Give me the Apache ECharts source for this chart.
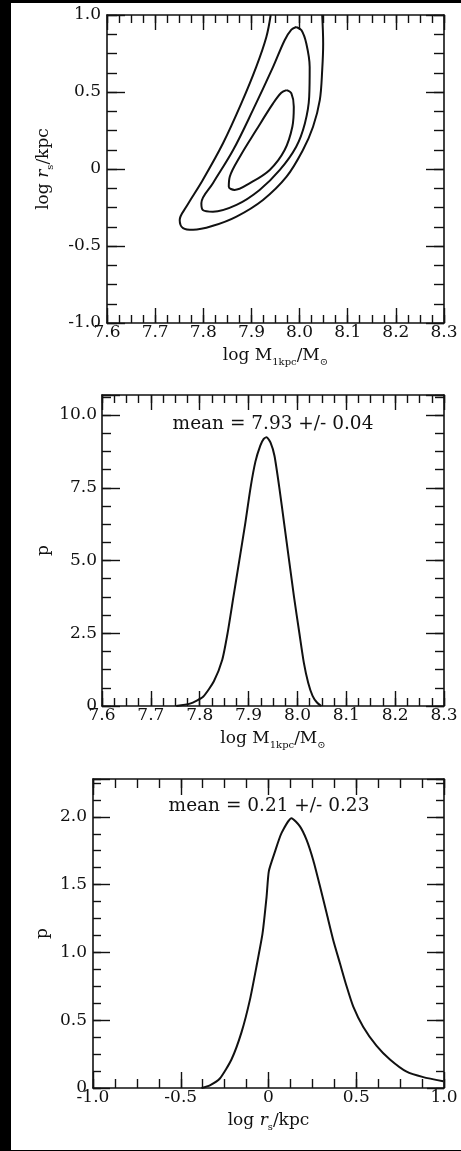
<!DOCTYPE html>
<html><head><meta charset="utf-8">
<script src="https://cdn.jsdelivr.net/npm/echarts@6/dist/echarts.min.js"></script>
<style>html,body{margin:0;padding:0;background:#fff}#c{width:461px;height:1151px}</style>
</head><body><div id="c"></div>
<script>
// ---------- tick labels ----------
const massTicks = [7.6, 7.7, 7.8, 7.9, 8.0, 8.1, 8.2, 8.3];
const massTickLabels = ['7.6', '7.7', '7.8', '7.9', '8.0', '8.1', '8.2', '8.3'];
const rsTicks = [-1, -0.5, 0, 0.5, 1];
const rsTickLabels = ['-1.0', '-0.5', '0', '0.5', '1.0'];
const pMassTicks = [0, 2.5, 5, 7.5, 10];
const pMassTickLabels = ['0', '2.5', '5.0', '7.5', '10.0'];
const pRsTicks = [0, 0.5, 1, 1.5, 2];
const pRsTickLabels = ['0', '0.5', '1.0', '1.5', '2.0'];

// ---------- panel 1: confidence contours (log M1kpc, log rs) ----------
const contourOuter = [[7.940,1.0],[7.931,0.857],[7.910,0.663],[7.879,0.426],[7.841,0.167],[7.799,-0.071],[7.765,-0.244],[7.751,-0.331],[7.758,-0.384],[7.779,-0.395],[7.820,-0.369],[7.869,-0.309],[7.924,-0.201],[7.973,-0.05],[8.007,0.123],[8.028,0.274],[8.042,0.447],[8.047,0.642],[8.049,0.815],[8.047,1.0]];
const contourMiddle = [[7.993,0.922],[8.004,0.901],[8.014,0.815],[8.021,0.663],[8.020,0.469],[8.011,0.296],[7.993,0.145],[7.959,-0.006],[7.917,-0.136],[7.869,-0.233],[7.820,-0.277],[7.799,-0.266],[7.796,-0.222],[7.820,-0.093],[7.862,0.123],[7.903,0.382],[7.945,0.663],[7.969,0.836],[7.983,0.905],[7.993,0.922]];
const contourInner = [[7.973,0.512],[7.983,0.491],[7.988,0.404],[7.985,0.274],[7.969,0.123],[7.938,-0.006],[7.896,-0.093],[7.865,-0.136],[7.853,-0.115],[7.855,-0.050],[7.876,0.080],[7.910,0.253],[7.945,0.426],[7.962,0.495],[7.973,0.512]];

// ---------- panel 2: p(log M1kpc) ----------
const massX = [7.752,7.780,7.807,7.829,7.846,7.857,7.869,7.881,7.893,7.904,7.914,7.924,7.931,7.937,7.945,7.953,7.963,7.973,7.983,7.993,8.004,8.013,8.022,8.031,8.040,8.049];
const massP = [0,0.08,0.32,0.85,1.58,2.50,3.75,5.00,6.25,7.50,8.40,8.95,9.18,9.24,9.05,8.60,7.50,6.25,5.00,3.75,2.50,1.50,0.80,0.35,0.12,0];
const massMeanText = 'mean = 7.93 +/- 0.04';

// ---------- panel 3: p(log rs) ----------
const rsX = [-0.382,-0.334,-0.277,-0.211,-0.154,-0.106,-0.068,-0.034,-0.011,0.002,0.036,0.074,0.131,0.179,0.217,0.255,0.293,0.331,0.369,0.407,0.445,0.483,0.540,0.616,0.692,0.787,0.882,0.996];
const rsP = [0.00,0.02,0.07,0.21,0.41,0.65,0.90,1.14,1.41,1.60,1.74,1.88,1.99,1.93,1.83,1.68,1.49,1.29,1.09,0.92,0.75,0.60,0.45,0.31,0.21,0.12,0.08,0.05];
const rsMeanText = 'mean = 0.21 +/- 0.23';

// ---------- styling / building ----------
const FONT = 'DejaVu Serif';
const INK = '#111111';
const zip = (a, b) => a.map((v, i) => [v, b[i]]);
function labelFmt(ticks, labels) {
  return v => { const i = ticks.findIndex(t => Math.abs(t - v) < 1e-7); return i < 0 ? '' : labels[i]; };
}
const nameRich = {
  a: { fontFamily: FONT, fontSize: 17, color: INK, lineHeight: 22 },
  i: { fontFamily: FONT, fontSize: 17, color: INK, lineHeight: 22, fontStyle: 'italic' },
  s: { fontFamily: FONT, fontSize: 10, color: INK, lineHeight: 10, verticalAlign: 'bottom' }
};
const massName = '{a|log M}{s|1kpc}{a|/M}{s|⊙}';
const rsName = '{a|log }{i|r}{s|s}{a|/kpc}';

const grids = [
  { left: 107, top: 15, width: 337, height: 308 },
  { left: 102, top: 395, width: 342, height: 311 },
  { left: 93, top: 779, width: 351, height: 309 }
];
const xAxes = [], yAxes = [];
function addAxes(dim, gi, c) {
  const list = dim === 'x' ? xAxes : yAxes;
  const pos = dim === 'x' ? ['bottom', 'top'] : ['left', 'right'];
  const mainIndex = list.length;
  pos.forEach((p, k) => {
    list.push({
      type: 'value', gridIndex: gi, position: p, min: c.min, max: c.max, interval: c.step,
      axisLine: { show: true, onZero: false, lineStyle: { color: INK, width: 1.6 } },
      axisTick: { show: true, inside: true, length: c.majorLen, lineStyle: { color: INK, width: 1.4 } },
      splitLine: { show: false },
      axisLabel: k === 0 ? { show: true, margin: c.labelMargin, fontFamily: FONT, fontSize: 17, color: INK,
        formatter: labelFmt(c.ticks, c.labels), showMinLabel: true, showMaxLabel: true, hideOverlap: false } : { show: false },
      name: k === 0 ? c.name : '', nameLocation: 'middle', nameGap: c.nameGap, nameMoveOverlap: false,
      nameTextStyle: { rich: nameRich, fontFamily: FONT, fontSize: 17, color: INK },
      z: 5
    });
    list.push({
      type: 'value', gridIndex: gi, position: p, min: c.min, max: c.max, interval: c.step / 4,
      axisLine: { show: false, onZero: false },
      axisTick: { show: true, inside: true, length: c.minorLen, lineStyle: { color: INK, width: 1.4 } },
      axisLabel: { show: false }, splitLine: { show: false }, z: 5
    });
  });
  return mainIndex;
}

const x0 = addAxes('x', 0, { min: 7.6, max: 8.3, step: 0.1, majorLen: 15, minorLen: 8, ticks: massTicks, labels: massTickLabels, name: massName, nameGap: 22, labelMargin: 1 });
const y0 = addAxes('y', 0, { min: -1, max: 1, step: 0.5, majorLen: 18, minorLen: 10, ticks: rsTicks, labels: rsTickLabels, name: rsName, nameGap: 52, labelMargin: 6 });
const x1 = addAxes('x', 1, { min: 7.6, max: 8.3, step: 0.1, majorLen: 15, minorLen: 8, ticks: massTicks, labels: massTickLabels, name: massName, nameGap: 22, labelMargin: 1 });
const y1 = addAxes('y', 1, { min: 0, max: 10.69, step: 2.5, majorLen: 18, minorLen: 9, ticks: pMassTicks, labels: pMassTickLabels, name: 'p', nameGap: 50, labelMargin: 5 });
const x2 = addAxes('x', 2, { min: -1, max: 1, step: 0.5, majorLen: 16, minorLen: 9, ticks: rsTicks, labels: rsTickLabels, name: rsName, nameGap: 22, labelMargin: 1 });
const y2 = addAxes('y', 2, { min: 0, max: 2.279, step: 0.5, majorLen: 17, minorLen: 8, ticks: pRsTicks, labels: pRsTickLabels, name: 'p', nameGap: 42, labelMargin: 6 });

const lineBase = { type: 'line', showSymbol: false, symbol: 'none', silent: true,
  lineStyle: { color: INK, width: 2 }, z: 3 };

const series = [
  Object.assign({}, lineBase, { name: 'outer', xAxisIndex: x0, yAxisIndex: y0, data: contourOuter, smooth: 0.35 }),
  Object.assign({}, lineBase, { name: 'middle', xAxisIndex: x0, yAxisIndex: y0, data: contourMiddle, smooth: 0.35 }),
  Object.assign({}, lineBase, { name: 'inner', xAxisIndex: x0, yAxisIndex: y0, data: contourInner, smooth: 0.35 }),
  Object.assign({}, lineBase, { name: 'pMass', xAxisIndex: x1, yAxisIndex: y1, data: zip(massX, massP), smooth: 0.2 }),
  Object.assign({}, lineBase, { name: 'pRs', xAxisIndex: x2, yAxisIndex: y2, data: zip(rsX, rsP), smooth: 0.2 })
];

const chart = echarts.init(document.getElementById('c'), null, { renderer: 'canvas' });
chart.setOption({
  animation: false,
  backgroundColor: '#ffffff',
  grid: grids,
  xAxis: xAxes,
  yAxis: yAxes,
  series: series,
  graphic: [
    { type: 'rect', shape: { x: 0, y: 0, width: 11, height: 1151 }, style: { fill: '#000' }, z: 100 },
    { type: 'rect', shape: { x: 0, y: 0, width: 461, height: 3 }, style: { fill: '#000' }, z: 100 },
    { type: 'rect', shape: { x: 0, y: 1150, width: 461, height: 1 }, style: { fill: '#000' }, z: 100 },
    { type: 'text', x: 273, y: 424, style: { text: massMeanText, fontFamily: FONT, fontSize: 18.5, fill: INK, align: 'center', verticalAlign: 'middle' }, z: 50 },
    { type: 'text', x: 269, y: 806, style: { text: rsMeanText, fontFamily: FONT, fontSize: 18.5, fill: INK, align: 'center', verticalAlign: 'middle' }, z: 50 }
  ]
});
</script></body></html>
